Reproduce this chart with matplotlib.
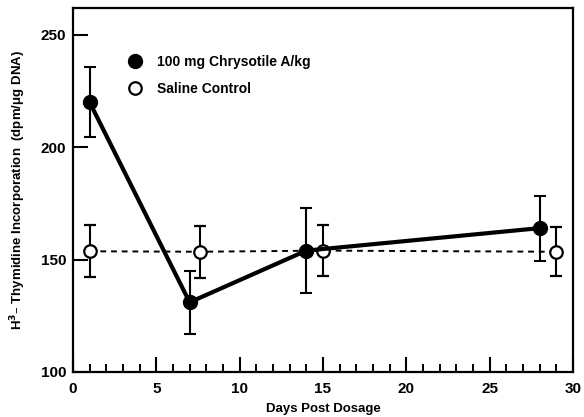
import matplotlib
matplotlib.use("Agg")
import matplotlib.pyplot as plt
from matplotlib.lines import Line2D
from matplotlib.ticker import MultipleLocator

# Chrysotile-treated group (filled circles)
chry_days = [1, 7, 14, 28]
chry_vals = [220, 131, 154, 164]
chry_err = [15.5, 14, 19, 14.5]

# Saline control group (open circles)
sal_days = [1, 7.6, 15, 29]
sal_vals = [153.7, 153.5, 154, 153.5]
sal_err = [11.5, 11.5, 11.5, 11]

plt.rcParams["font.family"] = ["Liberation Sans", "DejaVu Sans"]
plt.rcParams["font.weight"] = "bold"

fig = plt.figure(figsize=(5.84, 4.17), dpi=100)
ax = fig.add_axes([0.125, 0.108, 0.856, 0.873])

ax.errorbar(sal_days, sal_vals, yerr=sal_err, fmt="o", color="black",
            linestyle=(0, (3, 2.5)), linewidth=1.4, markersize=9,
            markerfacecolor="white", markeredgewidth=1.6,
            elinewidth=1.5, capsize=4.5, capthick=1.5, zorder=3)
ax.errorbar(chry_days, chry_vals, yerr=chry_err, fmt="o-", color="black",
            linewidth=3, markersize=10, elinewidth=1.5, capsize=4.5,
            capthick=1.5, zorder=4)

ax.set_xlim(0, 30)
ax.set_ylim(100, 262)
ax.xaxis.set_major_locator(MultipleLocator(5))
ax.xaxis.set_minor_locator(MultipleLocator(1))
ax.set_yticks([100, 150, 200, 250])
ax.tick_params(axis="both", direction="in", width=1.5, labelsize=11)
ax.tick_params(axis="x", which="major", length=11, pad=7)
ax.tick_params(axis="x", which="minor", length=6, width=1.4, direction="in")
ax.tick_params(axis="y", which="major", length=11, pad=5)
for sp in ax.spines.values():
    sp.set_linewidth(1.6)

ax.set_xlabel("Days Post Dosage", fontsize=9.5, fontweight="bold", labelpad=5)
ax.set_ylabel("H$^{\\mathbf{3}}$– Thymidine Incorporation  (dpm/μg DNA)",
              fontsize=9.5, fontweight="bold", labelpad=9)

handles = [
    Line2D([], [], marker="o", color="black", linestyle="none", markersize=10),
    Line2D([], [], marker="o", color="black", linestyle="none", markersize=9,
           markerfacecolor="white", markeredgewidth=1.6),
]
labels = ["100 mg Chrysotile A/kg", "Saline Control"]
ax.legend(handles, labels, loc="upper left", bbox_to_anchor=(0.088, 0.906),
          frameon=False, fontsize=10, handlelength=0.8, handletextpad=1.2,
          labelspacing=0.95)

fig.savefig("out.png", dpi=100)
